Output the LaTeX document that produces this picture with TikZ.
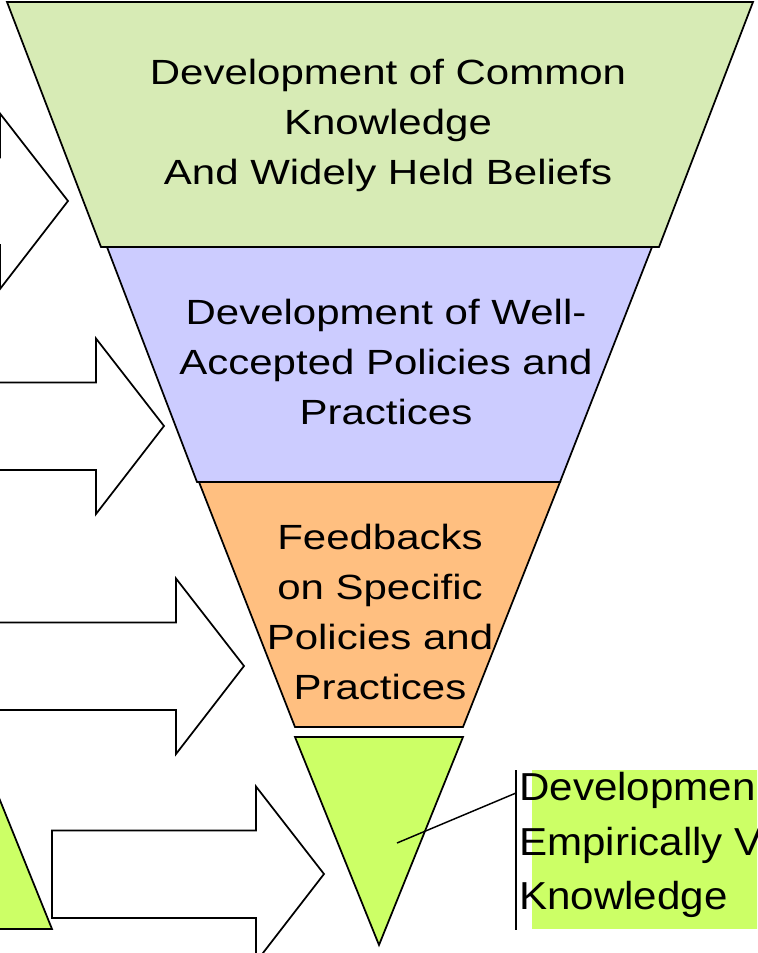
\documentclass[tikz,border=0pt]{standalone}
\usepackage{fontspec}
\setmainfont{Liberation Sans}
\usepackage{tikz}
\definecolor{commongreen}{RGB}{215,235,181}
\definecolor{policyblue}{RGB}{204,204,255}
\definecolor{feedorange}{RGB}{255,191,128}
\definecolor{limegreen}{RGB}{204,255,102}
\tikzstyle{stage} = [draw=black, line width=1.3pt, line join=miter]
\tikzstyle{stagetext} = [align=center, inner sep=0pt, xscale=1.2, font=\fontsize{26.25pt}{37.5pt}\selectfont]
\tikzstyle{blockarrow} = [draw=black, fill=white, line width=1.3pt, line join=miter]
\tikzstyle{calloutline} = [draw=black, line width=1.1pt]
\tikzstyle{callouttext} = [align=left, inner sep=0pt, xscale=1.08, font=\fontsize{29.25pt}{40.9pt}\selectfont]

\begin{document}
\begin{tikzpicture}[x=0.75pt, y=-0.75pt]
	\useasboundingbox (0,0) rectangle (757,953);
	\clip (0,0) rectangle (757,953);
	
	% funnel
	\draw [stage, fill=commongreen] (7,2) -- (753,2) -- (659,247) -- (101,247) -- cycle;
	\draw [stage, fill=policyblue] (107,247) -- (652,247) -- (560,482) -- (197,482) -- cycle;
	\draw [stage, fill=feedorange] (199,482) -- (560,482) -- (463,727) -- (295,727) -- cycle;
	\draw [stage, fill=limegreen] (295,737) -- (463,737) -- (379,945) -- cycle;
	\draw [stage, fill=limegreen] (-32,721) -- (52,929) -- (-117,929) -- cycle;
	
	\node (common) [stagetext] at (388,125) {Development of Common\\Knowledge\\And Widely Held Beliefs};
	\node (policies) [stagetext] at (386,362) {Development of Well-\\Accepted Policies and\\Practices};
	\node (feedbacks) [stagetext] at (380,612) {Feedbacks\\on Specific\\Policies and\\Practices};
	
	% block arrows
	\foreach \tx/\ty in {68/201, 164/426, 244/666, 324/874}
		\draw [blockarrow] (\tx,\ty) -- ++(-68,-87.5) -- ++(0,44) -- ++(-204,0) -- ++(0,87.5) -- ++(204,0) -- ++(0,44) -- cycle;
	
	% callout
	\fill [limegreen] (532,770) rectangle (760,929);
	\coordinate (pointer) at (397,843);
	\coordinate (bartop) at (516,770);
	\coordinate (barmid) at (516,793);
	\coordinate (barbottom) at (516,930);
	\draw [calloutline] (bartop) -- (barbottom);
	\draw [calloutline] (pointer) -- (barmid);
	\node (empirical) [callouttext, anchor=west] at (519,845) {Developmen\\Empirically V\\Knowledge};
\end{tikzpicture}
\end{document}
